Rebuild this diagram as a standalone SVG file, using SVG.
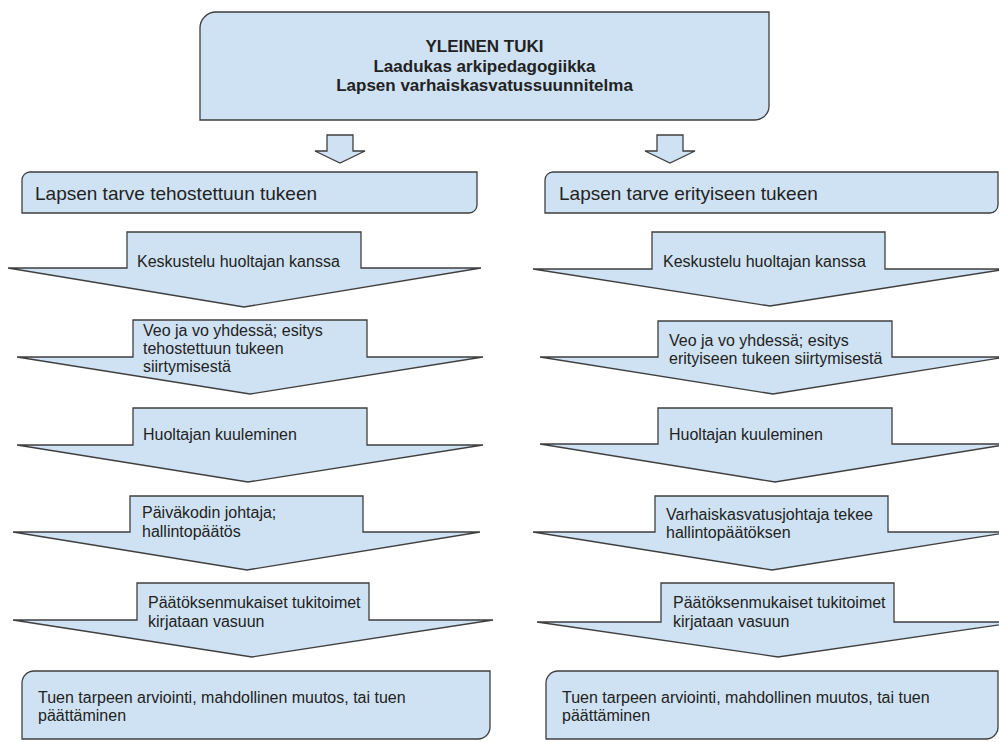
<svg xmlns="http://www.w3.org/2000/svg" width="999" height="742" viewBox="0 0 999 742">
<style>
.shape{fill:#cfe2f3;stroke:#3f3f3f;stroke-width:1.3;stroke-linejoin:miter}
.t{font-family:"Liberation Sans",Arial,sans-serif;fill:#222222}
.title{font-size:17px;font-weight:bold;text-anchor:middle}
.h{font-size:19px}
.s{font-size:16px}
</style>
<rect width="999" height="742" fill="#ffffff"/>
<g id="connectors">
<polygon class="shape" points="327,135 353,135 353,151 365,151 340,163 315,151 327,151"/>
<polygon class="shape" points="657,135 683,135 683,151 695,151 670,163 645,151 657,151"/>
</g>
<g id="yleinen-tuki">
<path class="shape" d="M200,28 A16,16 0 0 1 216,12 H769 V106 A14,14 0 0 1 755,120 H200 Z"/>
<text class="t title" x="484.5" y="52">YLEINEN TUKI</text>
<text class="t title" x="484.5" y="71.5">Laadukas arkipedagogiikka</text>
<text class="t title" x="484.5" y="91">Lapsen varhaiskasvatussuunnitelma</text>
</g>
<g id="tehostettu">
<path class="shape" d="M22,180 A8,8 0 0 1 30,172 H477 V205 A8,8 0 0 1 469,213 H22 Z"/>
<text class="t h" x="35" y="200">Lapsen tarve tehostettuun tukeen</text>
</g>
<g id="erityinen">
<path class="shape" d="M545,180 A8,8 0 0 1 553,172 H998 V205 A8,8 0 0 1 990,213 H545 Z"/>
<text class="t h" x="559" y="200">Lapsen tarve erityiseen tukeen</text>
</g>
<g id="l-keskustelu">
<polygon class="shape" points="127,232 361,232 361,268 481,268 244,307 8,268 127,268"/>
<text class="t s" x="137" y="267">Keskustelu huoltajan kanssa</text>
</g>
<g id="l-veo">
<polygon class="shape" points="133,320 367,320 367,357 483,357 250,394 17,357 133,357"/>
<text class="t s" x="143" y="336">Veo ja vo yhdessä; esitys</text>
<text class="t s" x="143" y="354">tehostettuun tukeen</text>
<text class="t s" x="143" y="372">siirtymisestä</text>
</g>
<g id="l-kuuleminen">
<polygon class="shape" points="133,408 367,408 367,445 483,445 248,482 17,445 133,445"/>
<text class="t s" x="143" y="440">Huoltajan kuuleminen</text>
</g>
<g id="l-paatos">
<polygon class="shape" points="130,496 363,496 363,532 480,532 247,570 13,532 130,532"/>
<text class="t s" x="142" y="518">Päiväkodin johtaja;</text>
<text class="t s" x="142" y="537">hallintopäätös</text>
</g>
<g id="l-tukitoimet">
<polygon class="shape" points="137,583 369,583 369,620 493,620 252,657 13,620 137,620"/>
<text class="t s" x="148" y="608">Päätöksenmukaiset tukitoimet</text>
<text class="t s" x="148" y="627">kirjataan vasuun</text>
</g>
<g id="l-arviointi">
<path class="shape" d="M22,683 A12,12 0 0 1 34,671 H490 V727 A12,12 0 0 1 478,739 H22 Z"/>
<text class="t s" x="38" y="703">Tuen tarpeen arviointi, mahdollinen muutos, tai tuen</text>
<text class="t s" x="38" y="721">päättäminen</text>
</g>
<g id="r-keskustelu">
<polygon class="shape" points="652,232 885,232 885,269 1007,269 770,306 533,269 652,269"/>
<text class="t s" x="663" y="267">Keskustelu huoltajan kanssa</text>
</g>
<g id="r-veo">
<polygon class="shape" points="658,321 892,321 892,357 1006,357 773,394 540,357 658,357"/>
<text class="t s" x="669" y="346">Veo ja vo yhdessä; esitys</text>
<text class="t s" x="669" y="364">erityiseen tukeen siirtymisestä</text>
</g>
<g id="r-kuuleminen">
<polygon class="shape" points="658,408 892,408 892,444 1010,444 775,482 540,444 658,444"/>
<text class="t s" x="669" y="440">Huoltajan kuuleminen</text>
</g>
<g id="r-paatos">
<polygon class="shape" points="655,496 888,496 888,532 1011,532 772,570 533,532 655,532"/>
<text class="t s" x="666" y="520">Varhaiskasvatusjohtaja tekee</text>
<text class="t s" x="666" y="538">hallintopäätöksen</text>
</g>
<g id="r-tukitoimet">
<polygon class="shape" points="661,583 894,583 894,622 1019,622 778,657 537,622 661,622"/>
<text class="t s" x="673" y="608">Päätöksenmukaiset tukitoimet</text>
<text class="t s" x="673" y="627">kirjataan vasuun</text>
</g>
<g id="r-arviointi">
<path class="shape" d="M546,683 A12,12 0 0 1 558,671 H998 V727 A12,12 0 0 1 986,739 H546 Z"/>
<text class="t s" x="562" y="703">Tuen tarpeen arviointi, mahdollinen muutos, tai tuen</text>
<text class="t s" x="562" y="721">päättäminen</text>
</g>
</svg>
